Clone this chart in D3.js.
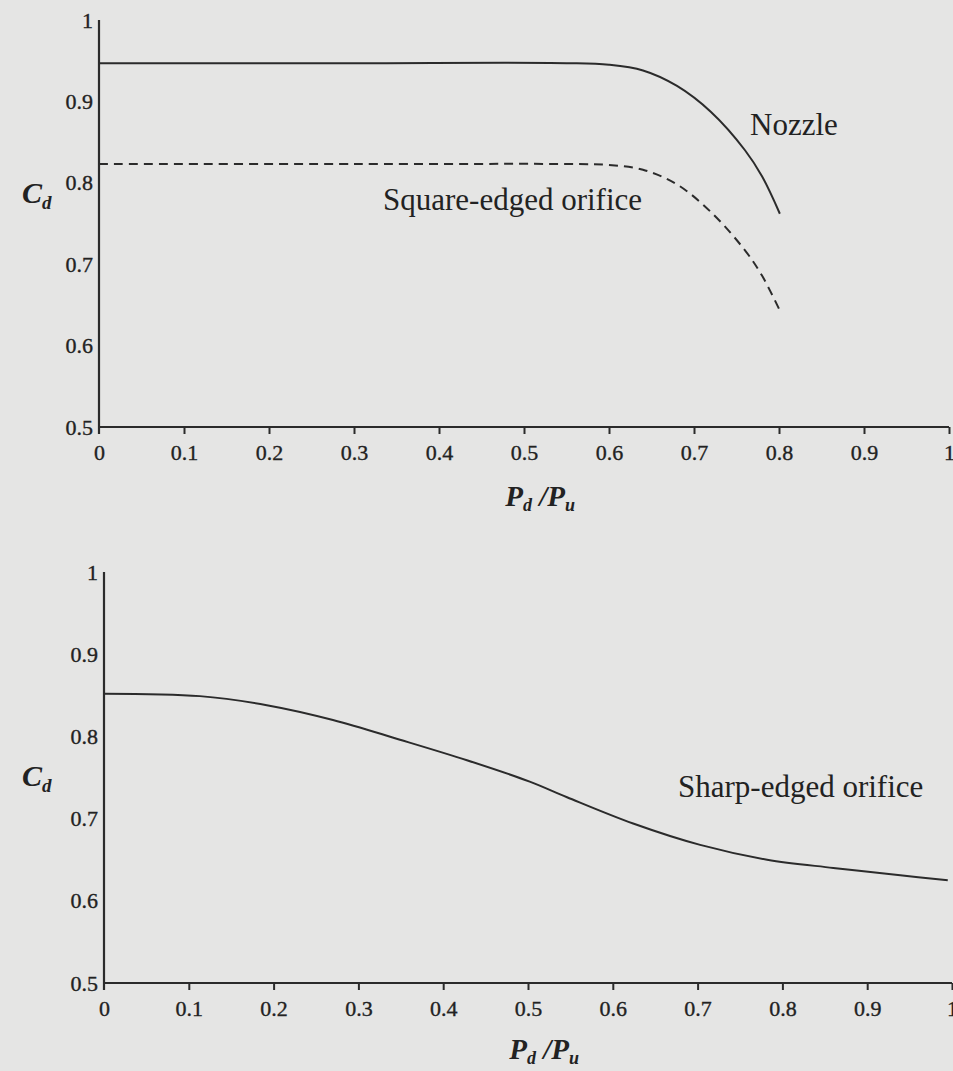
<!DOCTYPE html>
<html lang="en">
<head>
	<meta charset="UTF-8">
	<title>Discharge coefficient vs pressure ratio</title>
	<script src="https://d3js.org/d3.v7.min.js"></script>
	<style>
		body { margin: 0; background: #e5e5e4; }
		svg { display: block; }
	</style>
</head>
<body>
	<svg id="chart" width="953" height="1071"></svg>
	<script>

	// pressure ratio ticks and Cd ticks
	var xTicks = [0, 0.1, 0.2, 0.3, 0.4, 0.5, 0.6, 0.7, 0.8, 0.9, 1];
	var yTicks = [0.5, 0.6, 0.7, 0.8, 0.9, 1];

	// top panel
	var nozzleX  = [0, 0.3, 0.55, 0.6, 0.64, 0.68, 0.72, 0.76, 0.78, 0.801];
	var nozzleCd = [0.947, 0.947, 0.947, 0.945, 0.938, 0.919, 0.887, 0.84, 0.808, 0.762];

	var squareX  = [0, 0.3, 0.56, 0.6, 0.64, 0.68, 0.72, 0.76, 0.78, 0.801];
	var squareCd = [0.823, 0.823, 0.823, 0.822, 0.816, 0.798, 0.764, 0.717, 0.686, 0.643];

	// bottom panel
	var sharpX  = [0, 0.113, 0.192, 0.27, 0.349, 0.428, 0.502, 0.546, 0.624, 0.703, 0.782, 0.86, 0.939, 0.995];
	var sharpCd = [0.852, 0.849, 0.838, 0.82, 0.796, 0.771, 0.745, 0.726, 0.694, 0.668, 0.65, 0.64, 0.631, 0.625];

	var svg = d3.select("#chart");
	var ink = "#2b2b2b";
	var serif = "'Liberation Serif', 'Times New Roman', serif";

	function drawPanel(left, right, top, bottom, cdBase, titleBase) {
		var x = d3.scaleLinear().domain([0, 1]).range([left, right]);
		var y = d3.scaleLinear().domain([0.5, 1]).range([bottom, top]);
		var g = svg.append("g");

		var xAxis = g.append("g")
			.attr("transform", "translate(0," + bottom + ")")
			.call(d3.axisBottom(x).tickValues(xTicks).tickSize(7).tickPadding(10)
				.tickFormat(function (d) { return d === 0 ? "0" : d === 1 ? "1" : d3.format(".1f")(d); }));
		var yAxis = g.append("g")
			.attr("transform", "translate(" + left + ",0)")
			.call(d3.axisLeft(y).tickValues(yTicks).tickSize(0).tickPadding(6)
				.tickFormat(function (d) { return d === 1 ? "1" : d3.format(".1f")(d); }));

		[xAxis, yAxis].forEach(function (a) {
			a.select(".domain").attr("stroke", ink).attr("stroke-width", 2.2);
			a.selectAll(".tick line").attr("stroke", ink).attr("stroke-width", 2);
			a.selectAll("text").attr("fill", "#222")
				.attr("stroke", "#222").attr("stroke-width", 0.35)
				.style("font-family", serif).style("font-size", "22px");
		});
		xAxis.select(".domain").attr("d", "M" + left + ",0H" + right);
		yAxis.select(".domain").attr("d", "M0," + (bottom + 7) + "V" + top);
		xAxis.selectAll(".tick").filter(function (d) { return d === 0; }).select("line").remove();

		// Cd label
		var cd = g.append("text")
			.attr("x", 22).attr("y", cdBase)
			.attr("fill", "#222")
			.style("font-family", serif).style("font-style", "italic").style("font-weight", "bold");
		cd.append("tspan").style("font-size", "30px").text("C");
		cd.append("tspan").style("font-size", "19px").attr("dy", 6).text("d");

		// x axis title
		var t = g.append("text")
			.attr("x", x(0.478)).attr("y", titleBase)
			.attr("fill", "#222")
			.style("font-family", serif).style("font-style", "italic").style("font-weight", "bold");
		t.append("tspan").style("font-size", "29px").text("P");
		t.append("tspan").style("font-size", "18px").attr("dy", 5).text("d");
		t.append("tspan").style("font-size", "29px").attr("dy", -5).text(" /P");
		t.append("tspan").style("font-size", "18px").attr("dy", 5).text("u");

		return { g: g, x: x, y: y };
	}

	function curve(p, xs, ys, dash) {
		var line = d3.line()
			.x(function (d) { return p.x(d[0]); })
			.y(function (d) { return p.y(d[1]); })
			.curve(d3.curveCatmullRom.alpha(0.5));
		p.g.append("path")
			.datum(d3.zip(xs, ys))
			.attr("d", line)
			.attr("fill", "none")
			.attr("stroke", ink)
			.attr("stroke-width", 2)
			.attr("stroke-dasharray", dash || null);
	}

	function label(p, x, y, txt) {
		p.g.append("text")
			.attr("x", x).attr("y", y)
			.attr("fill", "#222")
			.style("font-family", serif).style("font-size", "31px")
			.text(txt);
	}

	var topP = drawPanel(99, 949, 20, 427, 203, 506);
	curve(topP, nozzleX, nozzleCd);
	curve(topP, squareX, squareCd, "9,6");
	label(topP, 750, 135, "Nozzle");
	label(topP, 383, 210, "Square-edged orifice");

	var botP = drawPanel(104, 952, 572, 983, 786, 1059);
	curve(botP, sharpX, sharpCd);
	label(botP, 678, 797, "Sharp-edged orifice");

	</script>
</body>
</html>
